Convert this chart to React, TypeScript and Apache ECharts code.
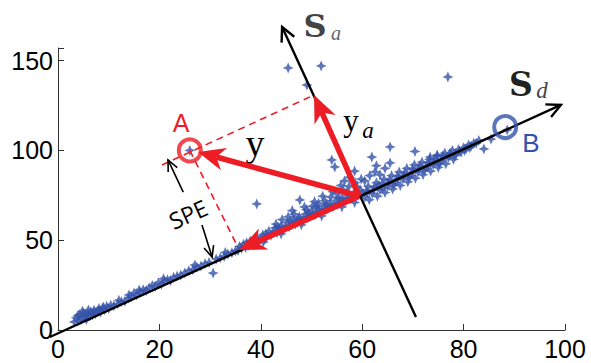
import React, { useEffect, useRef } from "react";
import * as echarts from "echarts";

const RED = "#ee1c25";
const BLUE = "#3552aa";

const xTickValues = [0, 20, 40, 60, 80, 100];
const yTickValues = [0, 50, 100, 150];

const lowBand: [number, number][] = [
  [3.2, 4.5], [3.6, 6.8], [4.0, 5.2], [4.3, 8.6], [4.6, 6.0], [5.0, 9.5], [5.2, 7.2], [5.6, 5.8],
  [5.9, 9.0], [6.2, 7.6], [6.5, 10.2], [6.8, 8.4], [7.1, 11.0], [7.4, 9.1], [7.8, 10.6], [8.1, 12.0],
  [8.4, 10.0], [8.8, 12.4], [9.2, 11.3], [9.6, 13.2], [10.0, 12.0], [10.4, 13.8],
  [3.9, 8.0], [4.8, 10.5], [5.5, 8.3], [6.0, 11.2], [7.0, 9.6], [8.0, 10.8], [9.0, 12.6],
  [11, 13.5], [11.8, 14.6], [12.5, 15.8], [13.2, 16.0], [13.9, 17.8], [14.5, 18.5], [15.0, 20.6],
  [15.5, 19.6], [16.2, 21.0], [16.8, 22.4], [17.4, 22.0], [18.0, 23.5], [18.6, 24.8], [19.2, 24.4],
  [19.8, 26.3], [20.4, 25.5], [21.0, 27.2], [21.6, 28.0], [22.2, 27.6], [22.8, 29.3], [23.5, 30.0],
  [24.2, 30.6], [25.0, 31.8], [25.8, 33.0], [26.6, 33.6], [27.4, 35.0], [28.2, 35.6], [29.0, 37.0],
  [29.8, 37.6], [31.2, 39.5], [32.0, 40.2], [32.8, 41.0], [33.5, 42.3], [34.3, 43.0], [35.0, 44.0],
  [12.0, 16.5], [14.0, 19.5], [16.0, 22.3], [20.8, 28.6], [27.0, 36.2], [33.0, 43.2],
];

const midBand: [number, number][] = [
  [35.5, 44.2], [35.8, 46.5], [36.2, 45.5], [36.6, 47.8], [37.0, 46.0], [37.5, 47.0], [37.9, 49.5],
  [38.3, 47.6], [38.8, 49.0], [39.2, 51.5], [39.6, 49.8], [40.0, 50.6], [40.4, 53.0], [40.8, 51.0],
  [41.2, 52.4], [41.6, 55.0], [42.0, 52.8], [42.4, 54.0], [42.8, 56.8], [43.2, 54.2], [43.0, 59.0],
  [43.6, 55.5], [44.0, 58.0], [44.4, 56.0], [44.2, 61.5], [44.8, 57.0], [45.2, 59.8], [45.6, 57.5],
  [45.4, 63.0], [46.0, 58.5], [46.4, 61.5], [46.8, 59.0], [46.6, 64.5], [47.2, 60.0], [47.6, 63.0],
  [48.0, 61.0], [48.4, 61.5], [48.8, 64.5], [49.2, 62.5], [49.0, 67.0], [49.6, 63.0], [50.0, 66.0],
  [50.4, 64.0], [50.2, 69.0], [50.8, 64.5], [51.2, 67.5], [51.6, 65.5], [51.4, 70.5], [52.0, 66.0],
  [52.4, 69.0], [52.8, 67.0], [52.6, 72.0], [53.2, 67.5], [53.6, 70.5], [54.0, 68.5], [53.8, 74.0],
  [54.4, 69.0], [54.8, 72.0], [55.2, 70.0], [55.0, 76.0], [55.6, 70.5], [56.0, 73.5], [56.4, 71.5],
  [56.2, 78.0], [56.8, 72.0], [57.2, 75.0], [57.6, 73.0], [57.4, 80.0], [58.0, 73.5], [58.4, 76.5],
  [58.8, 74.5], [58.6, 82.0], [59.2, 75.0], [59.6, 78.0], [60.0, 76.0], [59.8, 84.0],
  [40.5, 49.0], [44.0, 53.5], [48.0, 58.5], [52.0, 63.5], [56.0, 68.5], [58.5, 71.0],
  [60.5, 83.0], [61.5, 86.0], [62.5, 88.0], [63.5, 86.5], [64.5, 90.0], [62.8, 91.5], [57.5, 85.0],
  [58.5, 88.5], [56.5, 83.0],
  [37.2, 48.6], [39.0, 50.2], [41.0, 53.6], [43.4, 57.2], [45.8, 60.6], [47.4, 62.0], [49.4, 65.2],
  [51.0, 68.6], [53.0, 69.8], [55.4, 73.4], [57.0, 76.8], [59.0, 79.6], [46.2, 66.5], [48.6, 68.5],
  [50.6, 71.5], [52.2, 74.5], [54.2, 77.0], [55.8, 80.5],
];

const highBand: [number, number][] = [
  [60.5, 74.0], [60.8, 77.5], [61.2, 80.0], [61.4, 72.5], [62.0, 76.0], [62.4, 79.5], [62.8, 82.0],
  [63.0, 74.5], [63.5, 78.0], [63.9, 81.5], [64.3, 84.0], [64.5, 76.5], [65.0, 80.0], [65.4, 83.5],
  [65.8, 86.0], [66.0, 78.5], [66.5, 82.0], [66.9, 85.5], [67.3, 88.0], [67.5, 80.5], [68.0, 84.0],
  [68.4, 87.5], [68.8, 90.0], [69.0, 82.5], [69.5, 86.0], [69.9, 89.5], [70.3, 92.0], [70.5, 84.5],
  [71.0, 88.0], [71.4, 91.5], [71.8, 93.5], [72.0, 86.5], [72.5, 90.0], [72.9, 93.0], [73.3, 95.0],
  [73.5, 88.5], [74.0, 92.0], [74.4, 95.0], [74.8, 97.0], [75.0, 90.5], [75.5, 94.0], [75.9, 97.0],
  [76.3, 98.5], [76.5, 92.5], [77.0, 96.0], [77.4, 98.5], [77.8, 100.0], [78.0, 95.0], [78.5, 98.0],
  [79.0, 100.5], [79.5, 99.0], [80.0, 101.5], [80.5, 101.0], [81.0, 103.0], [81.5, 102.5],
  [82.0, 104.0], [82.5, 104.0], [83.0, 105.5],
  [61.0, 76.5], [62.2, 78.0], [63.3, 80.5], [64.0, 79.0], [65.2, 82.0], [66.2, 81.0], [67.0, 84.0],
  [68.2, 86.0], [69.2, 85.0], [70.0, 88.0], [71.2, 90.0], [72.2, 89.0], [73.0, 91.5], [74.2, 93.5],
  [75.2, 92.5], [76.0, 95.5], [77.2, 97.5], [78.2, 97.0], [79.2, 99.5], [80.2, 100.0], [81.2, 101.5],
];

const outliers: [number, number][] = [
  [30.6, 31.7], [39.2, 70.2], [47.7, 72.4], [54.0, 94.7], [54.6, 90.8], [45.4, 145.9], [51.9, 147.0],
  [49.1, 136.4], [61.9, 96.3], [65.5, 101.9], [65.5, 93.0], [70.4, 99.4], [73.4, 96.3], [74.8, 97.4],
  [76.9, 140.9], [84.0, 100.8], [85.4, 106.3], [88.6, 111.4], [26.0, 100.0],
];

const pointA: [number, number] = [26, 100];
const pointB: [number, number] = [88.2, 113];

// [x1, y1, x2, y2, kind] kind 0: axis arrow, 1: red vector, 2: SPE arrow
const axisArrows = [
  [-1.6, -3.9, 99.2, 125.3, 0],
  [70.6, 7.2, 44.2, 168.7, 0],
];
const vectorArrows = [
  [59.4, 74.6, 27.6, 99.1, 1],
  [59.4, 74.6, 50.5, 130.8, 1],
  [59.4, 74.6, 35.7, 44.5, 1],
];
const speArrows = [
  [24.7, 76.8, 21.7, 94.7, 2],
  [28.4, 58.5, 30.4, 40.6, 2],
];
const dashedParallel: [number, number][] = [[20.5, 91.9], [50.5, 130.8]];
const dashedPerp: [number, number][] = [[26, 100], [35.5, 46]];

const STAR =
  "path://M0,-10 L3,-3 L10,0 L3,3 L0,10 L-3,3 L-10,0 L-3,-3 Z";

function renderArrow(params: any, api: any) {
  const p1 = api.coord([api.value(0), api.value(1)]);
  const p2 = api.coord([api.value(2), api.value(3)]);
  const kind = api.value(4);
  const dx = p2[0] - p1[0];
  const dy = p2[1] - p1[1];
  const len = Math.hypot(dx, dy);
  const ux = dx / len;
  const uy = dy / len;
  const nx = -uy;
  const ny = ux;
  if (kind === 1) {
    const hl = 27, hw = 11.5, notch = 8;
    const bx = p2[0] - ux * hl, by = p2[1] - uy * hl;
    const mx = p2[0] - ux * (hl - notch), my = p2[1] - uy * (hl - notch);
    return {
      type: "group",
      children: [
        { type: "line", shape: { x1: p1[0], y1: p1[1], x2: mx, y2: my }, style: { stroke: RED, lineWidth: 5.5 } },
        {
          type: "polygon",
          shape: { points: [[p2[0], p2[1]], [bx + nx * hw, by + ny * hw], [mx, my], [bx - nx * hw, by - ny * hw]] },
          style: { fill: RED },
        },
      ],
    };
  }
  const lw = kind === 0 ? 2.4 : 1.6;
  const hl = kind === 0 ? 14 : 11;
  const hw = kind === 0 ? 7 : 5;
  const bx = p2[0] - ux * hl, by = p2[1] - uy * hl;
  return {
    type: "group",
    children: [
      { type: "line", shape: { x1: p1[0], y1: p1[1], x2: p2[0], y2: p2[1] }, style: { stroke: "#000", lineWidth: lw } },
      {
        type: "polyline",
        shape: { points: [[bx + nx * hw, by + ny * hw], [p2[0], p2[1]], [bx - nx * hw, by - ny * hw]] },
        style: { stroke: "#000", lineWidth: lw, fill: "none" },
      },
    ],
  };
}

export default function App() {
  const ref = useRef<HTMLDivElement>(null);
  useEffect(() => {
    if (!ref.current) return;
    const chart = echarts.init(ref.current, undefined, { renderer: "svg" });
    const allPoints = [...lowBand, ...midBand, ...highBand, ...outliers];
    const axisLabel = { fontSize: 25, color: "#000", fontFamily: "Liberation Sans, Arial, sans-serif", lineHeight: 26 };
    chart.setOption({
      animation: false,
      backgroundColor: "#fff",
      grid: { left: 58, right: 26, top: 48, bottom: 33 },
      xAxis: {
        type: "value",
        min: 0,
        max: 100,
        interval: 20,
        splitLine: { show: false },
        axisLine: { lineStyle: { color: "#333", width: 1 } },
        axisTick: { inside: true, length: 6, lineStyle: { color: "#333" } },
        axisLabel: { ...axisLabel, margin: 6, formatter: (v: number) => (xTickValues.includes(v) ? String(v) : "") },
      },
      yAxis: {
        type: "value",
        min: 0,
        max: 157,
        interval: 50,
        splitLine: { show: false },
        axisLine: { show: true, lineStyle: { color: "#333", width: 1 } },
        axisTick: { show: true, inside: true, length: 6, lineStyle: { color: "#333" } },
        axisLabel: { ...axisLabel, margin: 5, formatter: (v: number) => (yTickValues.includes(v) ? String(v) : "") },
      },
      series: [
        {
          type: "scatter",
          data: allPoints,
          symbol: STAR,
          symbolSize: 11,
          itemStyle: { color: BLUE },
          z: 2,
        },
        {
          type: "custom",
          renderItem: renderArrow,
          data: axisArrows,
          clip: false,
          z: 3,
        },
        {
          type: "line",
          data: dashedParallel,
          symbol: "none",
          lineStyle: { color: RED, width: 1.6, type: [7, 5] },
          z: 3,
        },
        {
          type: "line",
          data: dashedPerp,
          symbol: "none",
          lineStyle: { color: RED, width: 1.6, type: [7, 5] },
          z: 3,
        },
        {
          type: "custom",
          renderItem: renderArrow,
          data: vectorArrows,
          clip: false,
          z: 4,
        },
        {
          type: "custom",
          renderItem: renderArrow,
          data: speArrows,
          clip: false,
          z: 4,
        },
        {
          type: "scatter",
          data: [pointA],
          symbol: "circle",
          symbolSize: 22,
          itemStyle: { color: "rgba(0,0,0,0)", borderColor: RED, borderWidth: 4 },
          z: 5,
        },
        {
          type: "scatter",
          data: [pointB],
          symbol: "circle",
          symbolSize: 22,
          itemStyle: { color: "rgba(0,0,0,0)", borderColor: BLUE, borderWidth: 4 },
          z: 5,
        },
      ],
      graphic: [
        { type: "text", x: 181, y: 123, style: { text: "A", fill: RED, font: "25px Liberation Sans", align: "center", verticalAlign: "middle" } },
        { type: "text", x: 531, y: 143, style: { text: "B", fill: BLUE, font: "26px Liberation Sans", align: "center", verticalAlign: "middle" } },
        { type: "text", x: 255, y: 143, style: { text: "y", fill: "#000", font: "38px Liberation Serif", align: "center", verticalAlign: "middle" } },
        { type: "text", x: 351, y: 120, style: { text: "y", fill: "#000", font: "31px Liberation Serif", align: "center", verticalAlign: "middle" } },
        { type: "text", x: 368, y: 130, style: { text: "a", fill: "#000", font: "italic 23px Liberation Serif", align: "center", verticalAlign: "middle" } },
        { type: "text", x: 315, y: 26, style: { text: "S", fill: "#444", font: "bold 32px DejaVu Serif", align: "center", verticalAlign: "middle" } },
        { type: "text", x: 336, y: 33, style: { text: "a", fill: "#666", font: "italic 20px Liberation Serif", align: "center", verticalAlign: "middle" } },
        { type: "text", x: 521, y: 84, style: { text: "S", fill: "#222", font: "bold 33px DejaVu Serif", align: "center", verticalAlign: "middle" } },
        { type: "text", x: 542, y: 90, style: { text: "d", fill: "#444", font: "italic 23px Liberation Serif", align: "center", verticalAlign: "middle" } },
        {
          type: "text",
          x: 188,
          y: 214,
          rotation: 0.42,
          style: { text: "SPE", fill: "#000", font: "23px Open Sans", align: "center", verticalAlign: "middle" },
        },
      ],
    });
    return () => chart.dispose();
  }, []);
  return <div ref={ref} style={{ position: "fixed", left: 0, top: 0, width: 591, height: 363 }} />;
}
